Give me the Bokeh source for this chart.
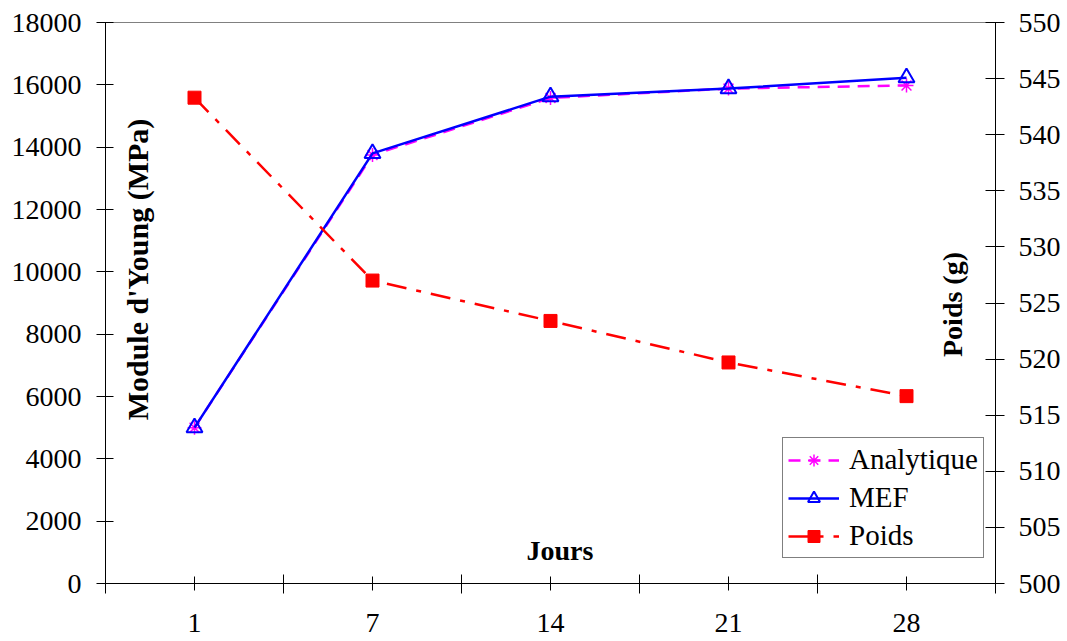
from math import pi
from bokeh.plotting import figure
from bokeh.models import Range1d, LinearAxis, FixedTicker, Label, Legend, LegendItem
from bokeh.embed import file_html
from bokeh.resources import INLINE

# ---- data ----
jours = ["1", "7", "14", "21", "28"]
analytique = [5000, 13750, 15580, 15880, 15980]
mef = [5000, 13800, 15620, 15880, 16230]
poids = [543.3, 527.0, 523.4, 519.7, 516.7]
left_ticks = list(range(0, 18001, 2000))
right_ticks = list(range(500, 551, 5))

FONT = "Liberation Serif"
FS = "28px"

xpos = [i + 0.5 for i in range(len(jours))]
bounds = list(range(len(jours) + 1))

p = figure(width=1067, height=641, x_range=Range1d(0, len(jours)), y_range=Range1d(0, 18000),
           output_backend="svg", toolbar_location=None,
           min_border_left=105, min_border_right=72, min_border_top=22, min_border_bottom=58,
           background_fill_color="white", border_fill_color="white",
           outline_line_color="#808080", outline_line_width=1)
p.xgrid.visible = False
p.ygrid.visible = False

# left axis
ya = p.yaxis[0]
ya.ticker = FixedTicker(ticks=left_ticks, minor_ticks=[])
ya.major_tick_in = 8
ya.major_tick_out = 9
ya.axis_line_color = "black"
ya.major_tick_line_color = "black"
ya.major_label_text_font = FONT
ya.major_label_text_font_size = FS
ya.major_label_text_color = "black"
ya.major_label_standoff = 15

# x axis
xa = p.xaxis[0]
xa.ticker = FixedTicker(ticks=xpos, minor_ticks=bounds)
xa.major_label_overrides = {xv: lab for xv, lab in zip(xpos, jours)}
xa.major_tick_in = 7
xa.major_tick_out = 7
xa.minor_tick_in = 9
xa.minor_tick_out = 10
xa.axis_line_color = "black"
xa.major_tick_line_color = "black"
xa.minor_tick_line_color = "black"
xa.major_label_text_font = FONT
xa.major_label_text_font_size = FS
xa.major_label_text_color = "black"
xa.major_label_standoff = 20

# right axis
p.extra_y_ranges = {"poids": Range1d(500, 550)}
ra = LinearAxis(y_range_name="poids", ticker=FixedTicker(ticks=right_ticks, minor_ticks=[]))
ra.major_tick_in = 10
ra.major_tick_out = 9
ra.axis_line_color = "black"
ra.major_tick_line_color = "black"
ra.major_label_text_font = FONT
ra.major_label_text_font_size = FS
ra.major_label_text_color = "black"
ra.major_label_standoff = 14
p.add_layout(ra, "right")

# series
la = p.line(xpos, analytique, line_color="#FF00FF", line_width=2.5, line_dash="12 8")
sa = p.scatter(xpos, analytique, marker="asterisk", size=14, line_color="#FF00FF", line_width=1.5)
lm = p.line(xpos, mef, line_color="#0000FF", line_width=2.5)
sm = p.scatter(xpos, mef, marker="triangle", size=16, line_color="#0000FF", fill_alpha=0, line_width=2)
lp = p.line(xpos, poids, y_range_name="poids", line_color="#FF0000", line_width=2.5,
            line_dash="20 10 5 10")
sp = p.scatter(xpos, poids, y_range_name="poids", marker="square", size=13,
               fill_color="#FF0000", line_color="#FF0000")

legend = Legend(items=[LegendItem(label="Analytique", renderers=[la, sa]),
                       LegendItem(label="MEF", renderers=[lm, sm]),
                       LegendItem(label="Poids", renderers=[lp, sp])],
                location=(677, 25), border_line_color="black", border_line_width=1,
                label_text_font=FONT, label_text_font_size="29px", label_text_color="black",
                glyph_width=51, glyph_height=30, label_standoff=10,
                padding=5, spacing=5, margin=0, background_fill_color="white")
p.add_layout(legend)

# axis titles inside plot
p.add_layout(Label(x=0.177, y=10075, text="Module d'Young (MPa)", angle=pi / 2,
                   text_align="center", text_baseline="middle", text_font=FONT,
                   text_font_style="bold", text_font_size="30px", text_color="black"))
p.add_layout(Label(x=4.757, y=8952, text="Poids (g)", angle=pi / 2,
                   text_align="center", text_baseline="middle", text_font=FONT,
                   text_font_style="bold", text_font_size=FS, text_color="black"))
p.add_layout(Label(x=2.553, y=1050, text="Jours",
                   text_align="center", text_baseline="middle", text_font=FONT,
                   text_font_style="bold", text_font_size=FS, text_color="black"))

open("out.html", "w").write(file_html(p, INLINE))
